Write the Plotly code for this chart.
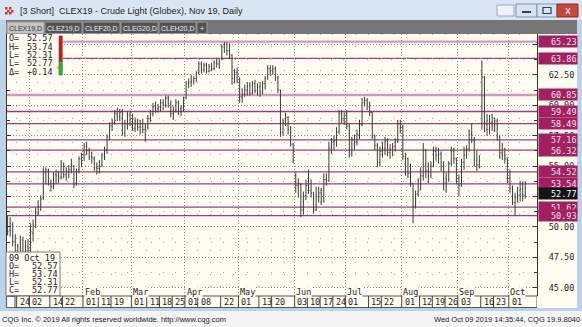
import pandas as pd
import plotly.graph_objects as go

# ---------------- data ----------------
holidays = ["2018-12-25", "2019-01-01", "2019-01-21", "2019-02-18", "2019-04-19",
            "2019-05-27", "2019-07-04", "2019-09-02"]
trade_dates = [d for d in pd.bdate_range("2018-12-18", "2019-10-09")
               if d.strftime("%Y-%m-%d") not in holidays]

open_ = [50.6, 49.7, 50.2, 48.8, 48.4, 46.6, 48.9, 47.9, 48.4, 48.2,
         49.5, 50.2, 51.2, 51.8, 52.4, 54.5, 54.6, 53.6, 53.3, 54.3,
         54.2, 54.1, 55.2, 54.3, 54.5, 54.7, 55.0, 53.6, 54.7, 55.6,
         55.9, 56.6, 56.3, 55.8, 55.6, 54.9, 54.8, 55.1, 55.9, 56.3,
         57.4, 58.3, 58.6, 59.3, 59.1, 59.5, 57.7, 58.5, 59.2, 58.9,
         58.1, 58.7, 58.2, 58.5, 58.0, 58.2, 58.9, 59.3, 59.9, 59.7,
         59.8, 60.2, 60.0, 60.6, 60.1, 59.3, 59.6, 60.2, 59.7, 59.8,
         60.6, 61.8, 61.9, 62.0, 62.2, 62.7, 63.4, 62.9, 63.3, 62.8,
         63.2, 63.0, 63.5, 63.4, 63.8, 64.8, 65.0, 64.5, 64.1, 62.2,
         62.7, 62.0, 60.7, 60.9, 61.2, 61.6, 61.0, 61.8, 61.2, 61.5,
         61.1, 61.8, 62.2, 63.0, 62.8, 63.0, 62.3, 61.2, 57.8, 58.7,
         59.0, 58.0, 56.8, 54.2, 53.4, 53.5, 51.4, 52.6, 53.4, 53.0,
         52.8, 51.4, 52.5, 52.8, 52.1, 53.9, 53.8, 56.5, 57.0, 57.1,
         57.8, 59.3, 58.9, 59.2, 58.3, 56.0, 57.2, 57.0, 57.6, 58.4,
         60.2, 60.4, 60.2, 59.4, 57.4, 56.7, 55.3, 56.2, 56.4, 57.0,
         56.1, 56.4, 56.6, 57.0, 58.5, 58.2, 55.2, 55.6, 54.4, 53.6,
         51.7, 52.7, 53.8, 54.2, 56.3, 54.6, 54.2, 55.0, 56.2, 55.9,
         56.0, 55.0, 53.6, 53.9, 55.2, 56.2, 55.6, 54.0, 53.4, 55.3,
         55.9, 56.4, 57.6, 57.1, 55.5, 55.1, 58.5, 62.3, 58.4, 58.0,
         58.6, 58.3, 58.7, 57.4, 56.1, 55.9, 55.6, 54.0, 53.2, 52.0,
         52.4, 52.6, 53.1, 52.57]
high = [50.9, 50.8, 50.4, 49.4, 48.6, 49.3, 49.2, 48.9, 49.0, 50.3,
        50.6, 51.6, 52.2, 52.6, 54.9, 54.9, 54.8, 53.9, 54.5, 54.7,
        54.6, 55.5, 55.3, 54.9, 55.1, 55.6, 55.1, 54.8, 55.8, 56.1,
        56.9, 57.0, 56.5, 56.2, 55.8, 55.3, 55.5, 56.1, 56.6, 57.6,
        58.6, 58.9, 59.6, 59.8, 59.7, 59.7, 58.8, 59.5, 59.5, 59.3,
        59.0, 58.9, 58.8, 58.9, 58.5, 59.2, 59.6, 60.2, 60.3, 60.1,
        60.5, 60.5, 60.8, 60.8, 60.4, 59.9, 60.5, 60.4, 60.0, 60.7,
        62.0, 62.2, 62.5, 62.4, 62.8, 63.6, 63.6, 63.5, 63.5, 63.4,
        63.5, 63.7, 63.9, 63.8, 65.0, 65.2, 65.2, 65.1, 64.2, 63.0,
        63.1, 62.3, 61.4, 61.7, 61.9, 61.9, 62.0, 62.1, 61.8, 61.9,
        62.0, 62.4, 63.3, 63.3, 63.3, 63.2, 62.4, 61.3, 58.9, 59.4,
        59.1, 58.3, 56.9, 54.5, 54.0, 53.6, 52.9, 53.9, 54.7, 53.9,
        52.9, 53.3, 53.3, 53.2, 54.4, 54.4, 57.0, 57.3, 57.5, 58.2,
        59.6, 59.6, 59.4, 59.6, 58.5, 57.4, 57.6, 58.0, 58.8, 60.6,
        60.7, 60.6, 60.3, 59.5, 57.6, 56.9, 56.6, 57.0, 57.4, 57.3,
        56.8, 56.9, 57.3, 58.8, 58.8, 58.4, 56.1, 55.7, 55.2, 53.6,
        53.0, 54.0, 54.9, 56.9, 56.4, 55.3, 55.4, 56.6, 56.6, 56.5,
        56.2, 55.4, 54.5, 55.4, 56.6, 56.5, 55.7, 54.3, 55.6, 56.6,
        56.7, 58.0, 58.5, 57.4, 56.3, 55.9, 63.7, 62.4, 59.3, 59.2,
        59.3, 59.0, 58.9, 57.5, 56.9, 56.5, 55.7, 54.7, 53.4, 52.8,
        53.3, 53.8, 53.7, 53.74]
low = [49.3, 49.2, 48.4, 47.9, 46.2, 46.0, 46.9, 47.3, 47.5, 47.8,
       48.8, 49.9, 50.9, 51.3, 52.2, 53.5, 53.4, 52.9, 53.1, 53.5,
       53.6, 53.9, 54.0, 53.8, 54.0, 54.4, 53.2, 53.4, 54.4, 54.9,
       55.4, 55.9, 55.5, 55.2, 54.6, 54.3, 54.4, 54.9, 55.5, 56.0,
       57.1, 57.9, 58.4, 58.7, 58.7, 57.5, 57.4, 58.0, 58.3, 57.9,
       57.8, 57.9, 57.6, 57.7, 57.0, 58.0, 58.6, 59.1, 59.4, 59.4,
       59.5, 59.6, 59.8, 59.8, 59.0, 58.8, 59.4, 59.2, 59.1, 59.5,
       60.5, 61.4, 61.5, 61.7, 61.9, 62.5, 62.6, 62.7, 62.6, 62.7,
       62.8, 62.9, 63.1, 63.0, 63.7, 64.3, 64.1, 63.8, 61.7, 61.8,
       61.8, 60.2, 60.2, 60.7, 60.8, 60.8, 60.9, 61.0, 60.8, 60.7,
       60.9, 61.3, 62.1, 62.4, 62.5, 62.0, 61.0, 57.4, 57.5, 58.3,
       57.6, 56.6, 55.2, 52.8, 52.4, 50.8, 51.0, 52.2, 52.7, 52.4,
       51.1, 51.3, 52.0, 51.8, 52.0, 53.4, 53.7, 56.0, 56.3, 56.6,
       57.6, 58.5, 58.4, 58.0, 55.7, 55.8, 56.3, 56.7, 57.2, 58.3,
       59.9, 59.6, 59.1, 57.2, 56.3, 54.9, 55.0, 55.7, 55.9, 55.8,
       55.6, 55.8, 56.2, 56.9, 57.7, 55.5, 54.2, 54.0, 53.3, 50.3,
       51.5, 52.5, 53.0, 53.8, 54.0, 53.6, 54.0, 54.9, 55.4, 55.2,
       54.6, 53.0, 52.8, 53.7, 55.0, 55.2, 53.5, 52.5, 53.3, 54.7,
       55.6, 56.2, 56.9, 55.0, 54.6, 54.8, 58.0, 57.8, 57.5, 57.6,
       57.9, 57.8, 57.1, 55.6, 55.5, 55.2, 53.6, 52.8, 51.8, 50.93,
       52.0, 52.1, 52.1, 52.31]
close = [49.6, 50.3, 48.8, 48.5, 46.5, 49.0, 47.8, 48.3, 48.2, 49.6,
         50.1, 51.2, 51.7, 52.3, 54.6, 54.7, 53.7, 53.3, 54.3, 54.2,
         54.0, 55.3, 54.3, 54.6, 54.7, 55.1, 53.5, 54.6, 55.6, 55.9,
         56.6, 56.3, 55.8, 55.7, 54.9, 54.8, 55.0, 55.9, 56.3, 57.4,
         58.3, 58.6, 59.3, 59.1, 59.4, 57.7, 58.5, 59.2, 58.9, 58.1,
         58.7, 58.2, 58.5, 58.0, 58.2, 58.9, 59.3, 59.9, 59.7, 59.8,
         60.2, 60.0, 60.6, 60.1, 59.3, 59.6, 60.2, 59.7, 59.8, 60.5,
         61.8, 61.9, 62.0, 62.2, 62.7, 63.4, 62.9, 63.3, 62.8, 63.2,
         63.0, 63.5, 63.4, 63.6, 64.8, 65.0, 64.5, 64.2, 62.2, 62.7,
         62.0, 60.7, 60.9, 61.3, 61.6, 61.0, 61.8, 61.2, 61.5, 61.1,
         61.8, 62.2, 63.0, 62.8, 63.0, 62.3, 61.3, 57.8, 58.6, 59.0,
         58.0, 56.8, 55.5, 53.4, 53.6, 51.4, 52.6, 53.4, 53.0, 52.8,
         51.4, 52.5, 52.8, 52.1, 53.9, 53.8, 56.5, 57.0, 57.1, 57.8,
         59.3, 58.9, 58.6, 58.3, 56.0, 57.2, 57.0, 57.6, 58.4, 60.2,
         60.4, 60.2, 59.4, 57.4, 56.7, 55.3, 56.2, 56.4, 57.0, 56.1,
         56.4, 56.6, 57.0, 58.5, 58.2, 55.8, 55.8, 54.4, 53.6, 51.7,
         52.7, 53.8, 54.2, 56.3, 54.6, 54.2, 55.0, 56.2, 55.9, 56.0,
         55.0, 53.6, 53.9, 55.2, 56.2, 55.6, 54.0, 53.4, 55.3, 55.9,
         56.4, 57.6, 57.1, 55.5, 55.1, 55.5, 62.3, 58.6, 58.0, 58.6,
         58.3, 58.7, 57.4, 56.1, 55.9, 55.6, 54.0, 53.2, 52.0, 52.4,
         52.6, 53.1, 52.63, 52.77]

level_values = [65.23, 63.86, 60.85, 59.49, 58.49, 57.16, 56.32, 54.52, 53.54, 51.62, 50.93]
level_light = [65.23, 60.85]
last_price = 52.77

price_ticks = [45.0, 47.5, 50.0, 52.5, 55.0, 57.5, 60.0, 62.5, 65.0]
price_tick_text = ["45.00", "47.50", "50.00", "", "55.00", "57.50", "60.00", "62.50", ""]

date_labels = ["2018-12-24", "2019-01-02", "2019-01-14", "2019-01-22", "2019-02-01",
               "2019-02-11", "2019-02-19", "2019-03-01", "2019-03-11", "2019-03-18",
               "2019-03-25", "2019-04-01", "2019-04-08", "2019-04-22", "2019-05-01",
               "2019-05-13", "2019-05-20", "2019-06-03", "2019-06-10", "2019-06-17",
               "2019-06-24", "2019-07-01", "2019-07-15", "2019-07-22", "2019-08-01",
               "2019-08-12", "2019-08-19", "2019-08-26", "2019-09-03", "2019-09-16",
               "2019-09-23", "2019-10-01"]
month_starts = ["2019-01-02", "2019-02-01", "2019-03-01", "2019-04-01", "2019-05-01",
                "2019-06-03", "2019-07-01", "2019-08-01", "2019-09-03", "2019-10-01"]
month_names = ["Jan", "Feb", "Mar", "Apr", "May", "Jun", "Jul", "Aug", "Sep", "Oct"]

info_labels = ["O=", "H=", "L=", "L=", "\u0394="]
info_values = ["52.57", "53.74", "52.31", "52.77", "+0.14"]
box_title = "09 Oct 19"
box_labels = ["O=", "H=", "L=", "C="]
box_values = ["52.57", "53.74", "52.31", "52.77"]
tabs = ["CLEX19,D", "CLEZ19,D", "CLEF20,D", "CLEG20,D", "CLEH20,D", "+"]
title_text = "[3 Short]  CLEX19 - Crude Light (Globex), Nov 19, Daily"
footer_left = "CQG Inc. \u00a9 2019 All rights reserved worldwide. http://www.cqg.com"
footer_right = "Wed Oct 09 2019 14:35:44, CQG 19.9.8040"

# ---------------- layout helpers ----------------
W, H = 582, 327
L, R, T, B = 7, 45, 34, 31
PW, PH = W - L - R, H - T - B
CREAM = "#FFFDF2"
FRAME = "#BCD2EA"
MONO = "DejaVu Sans Mono"
SANS = "Liberation Sans"

idx_of = {d.strftime("%Y-%m-%d"): i for i, d in enumerate(trade_dates)}
xs = list(range(len(trade_dates)))


def px(x):
    return (x - L) / PW


def py(y):
    return (H - B - y) / PH


shapes = []
annos = []


def rect(x0, y0, x1, y1, fill, lc=None, lw=0, layer="above"):
    shapes.append(dict(type="rect", xref="paper", yref="paper",
                       x0=px(x0), x1=px(x1), y0=py(y1), y1=py(y0),
                       fillcolor=fill, layer=layer,
                       line=dict(color=lc or fill, width=lw)))


def line(x0, y0, x1, y1, color, w=1):
    shapes.append(dict(type="line", xref="paper", yref="paper",
                       x0=px(x0), x1=px(x1), y0=py(y0), y1=py(y1),
                       layer="above", line=dict(color=color, width=w)))


def txt(x, y, s, size=9, color="#222", anchor="left", family=SANS, bg=None):
    a = dict(xref="paper", yref="paper", x=px(x), y=py(y),
             text=s, showarrow=False, xanchor=anchor, yanchor="middle",
             font=dict(size=size, color=color, family=family), borderpad=0)
    if bg:
        a["bgcolor"] = bg
    annos.append(a)


# level lines (between grid and bars)
for v in level_values:
    light = v in level_light
    shapes.append(dict(type="line", xref="paper", yref="y", x0=0, x1=1, y0=v, y1=v,
                       layer="between",
                       line=dict(color="#D79AB5" if light else "#A93A70",
                                 width=2.4 if light else 1.3)))

# window chrome
rect(0, 0, W, 20, "#D9E5F3")
rect(0, 20, 6, 311, FRAME)
rect(577, 20, W, 311, FRAME)
rect(0, 308, W, 311, FRAME)
rect(0, 311, W, H, "#F4F4F4")
rect(6, 20, 577, 34, "#767676")
# title icon
for (a, b) in [(5, 7), (9, 7), (7, 10), (11, 10), (5, 12), (9, 12)]:
    rect(a, b, a + 2.5, b + 2.5, "#D0343A")
txt(19, 11, title_text, size=9, color="#1E1E1E")
# window buttons
rect(497, 5, 514, 16, "#EEF2F7", "#9AA8BA", 1)
rect(516, 4, 537, 17, "#D6E3F1", "#7F95B1", 1)
line(522, 12, 531, 12, "#2B3E5A", 2)
rect(537, 4, 557, 17, "#D6E3F1", "#7F95B1", 1)
rect(543, 7.5, 551, 13.5, "#D6E3F1", "#2B3E5A", 1.2)
rect(557, 4, 578, 17, "#C9463D", "#8E2A24", 1)
txt(567.5, 10.5, "x", size=10, color="#FFFFFF", anchor="center", family="DejaVu Sans")

# tabs
tab_x = [(7, 44), (45, 82), (83, 120), (121, 158), (159, 196), (197, 207)]
for k, (a, b) in enumerate(tab_x):
    active = k == 0
    rect(a, 22, b, 33.5, "#C4C4C4" if active else "#535353", "#9A9A9A", 1)
    txt((a + b) / 2, 28, tabs[k], size=7, color="#333" if active else "#F2F2F2",
        anchor="center")

# top-left info box
rect(7, 34, 63, 75, CREAM)
for k in range(5):
    y = 38.3 + 8.35 * k
    txt(8, y, info_labels[k], size=8.5, family=MONO, color="#222")
    txt(54, y, info_values[k], size=8.5, family=MONO, color="#222", anchor="right")
rect(59, 36, 62.3, 61.5, "#E01010", "#555", 0.6)
rect(59, 61.5, 62.3, 75, "#22C020", "#555", 0.6)
rect(57.5, 66.5, 59.5, 69, "#B8A000")

# bottom-left OHLC box
rect(6, 252, 60, 296, CREAM, "#7A7A7A", 1)
txt(8, 258, box_title, size=8.5, family=MONO)
for k in range(4):
    y = 266 + 8 * k
    txt(8, y, box_labels[k], size=8.5, family=MONO)
    txt(58.5, y, box_values[k], size=8.5, family=MONO, anchor="right")

# date row
rect(7, 296, 537, 307.5, CREAM, "#555", 1)
rect(537, 296, 577, 308, CREAM)
rect(6.5, 296.5, 15, 307.5, "#FFFFFF", "#666", 1.2)
for d in date_labels:
    i = idx_of[d]
    shapes.append(dict(type="line", xref="x", yref="paper", x0=i - 0.45, x1=i - 0.45,
                       y0=py(296), y1=py(307.5), layer="above",
                       line=dict(color="#444", width=1)))
    annos.append(dict(xref="x", yref="paper", x=i - 0.3, y=py(302.2), text=d[-2:],
                      showarrow=False, xanchor="left", yanchor="middle", xshift=0.5,
                      font=dict(size=8.5, color="#1E1E1E", family=MONO)))

# month labels inside the plot
for d, m in zip(month_starts[1:], month_names[1:]):
    i = idx_of[d]
    annos.append(dict(xref="x", yref="paper", x=i - 0.2, y=py(291.5), text=m,
                      showarrow=False, xanchor="left", yanchor="middle",
                      bgcolor=CREAM, borderpad=0,
                      font=dict(size=8.5, color="#1E1E1E", family=MONO)))

# price level boxes on the right
for v in level_values:
    annos.append(dict(xref="paper", yref="y", x=px(537.5), y=v, text=f"{v:.2f}",
                      showarrow=False, xanchor="left", yanchor="middle",
                      width=37, height=10, align="right", borderpad=0.5,
                      bgcolor="#A2205F", font=dict(size=8.5, color="#F6E2EC", family=MONO)))
annos.append(dict(xref="paper", yref="y", x=px(537.5), y=last_price, text=f"{last_price:.2f}",
                  showarrow=False, xanchor="left", yanchor="middle",
                  width=37, height=10, align="right", borderpad=0.5,
                  bgcolor="#141414", font=dict(size=8.5, color="#FFFFFF", family=MONO)))

# footer
txt(1, 319, footer_left, size=7.5, color="#222")
txt(581, 319, footer_right, size=7.5, color="#222", anchor="right")

# ---------------- figure ----------------
fig = go.Figure(go.Ohlc(
    x=xs, open=open_, high=high, low=low, close=close,
    increasing=dict(line=dict(color="#3A3A3A", width=1)),
    decreasing=dict(line=dict(color="#3A3A3A", width=1)),
    tickwidth=0.3, hoverinfo="skip"))

week_starts = []
prev = None
for i, d in enumerate(trade_dates):
    wk = d.isocalendar()[1]
    if wk != prev:
        week_starts.append(i - 0.45)
        prev = wk

fig.update_layout(
    width=W, height=H, margin=dict(l=L, r=R, t=T, b=B, pad=0),
    paper_bgcolor=CREAM, plot_bgcolor=CREAM, showlegend=False,
    shapes=shapes, annotations=annos,
    xaxis=dict(range=[(L - 7.6) / 2.55, (W - R - 7.6) / 2.55], rangeslider=dict(visible=False),
               tickmode="array", tickvals=[idx_of[d] - 0.45 for d in month_starts],
               showticklabels=False, ticks="", showgrid=True, gridcolor="#8A8A8A",
               gridwidth=1, griddash="1px,2px", zeroline=False, showline=False,
               minor=dict(tickmode="array", tickvals=week_starts, showgrid=True,
                          gridcolor="#A9A9A9", griddash="1px,11px", ticks="")),
    yaxis=dict(side="right", range=[44.32, 65.86], tickmode="array",
               tickvals=price_ticks, ticktext=price_tick_text,
               ticks="inside", ticklen=4, tickcolor="#333",
               showline=True, linecolor="#333", linewidth=1, mirror="allticks",
               showgrid=True, gridcolor="#8A8A8A", gridwidth=1, griddash="1px,2px",
               zeroline=False, ticklabelstandoff=9,
               tickfont=dict(family=MONO, size=8.5, color="#1E1E1E"),
               minor=dict(tick0=45, dtick=1.25, ticks="inside", ticklen=3, tickcolor="#333",
                          showgrid=True, gridcolor="#A9A9A9", griddash="1px,11px")),
)

fig.write_html("out.html")
